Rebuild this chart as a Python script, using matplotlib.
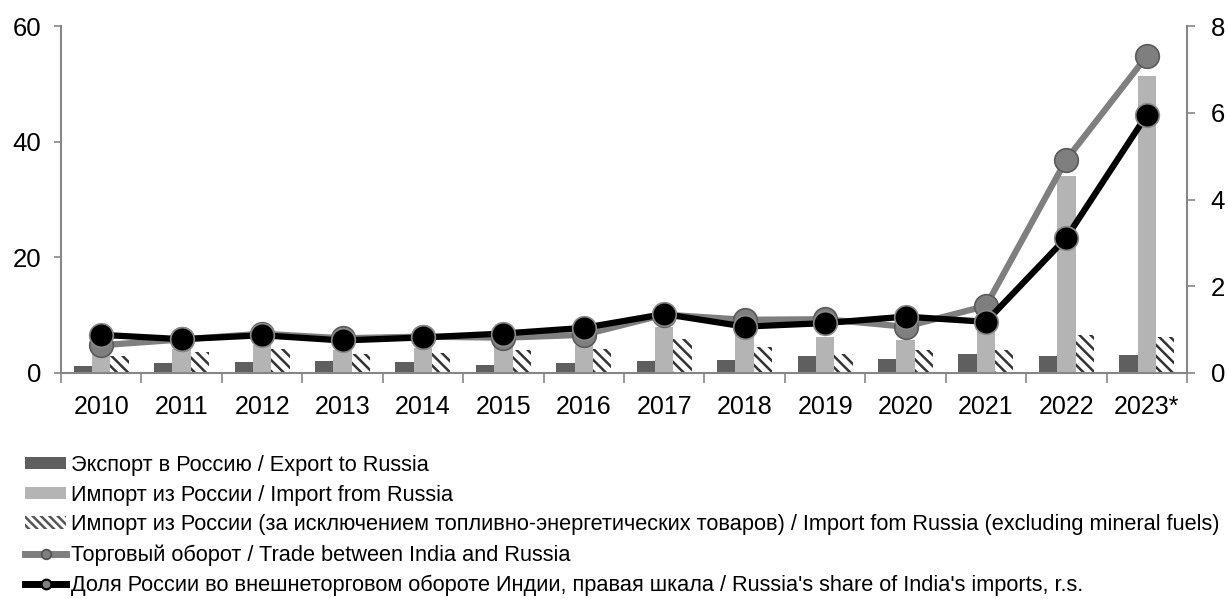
import matplotlib
matplotlib.use("Agg")
import matplotlib.pyplot as plt
import numpy as np
from matplotlib.lines import Line2D
from matplotlib.patches import Patch

plt.rcParams['font.family'] = ['Liberation Sans', 'DejaVu Sans']
plt.rcParams['hatch.linewidth'] = 1.8

years = ['2010', '2011', '2012', '2013', '2014', '2015', '2016', '2017',
         '2018', '2019', '2020', '2021', '2022', '2023*']
export_to_russia = [1.2, 1.7, 1.9, 2.0, 1.9, 1.4, 1.7, 2.0, 2.2, 2.9, 2.4, 3.2, 2.9, 3.1]
import_from_russia = [3.6, 4.1, 4.9, 4.0, 4.4, 4.7, 4.9, 8.0, 7.0, 6.2, 5.7, 8.6, 34.0, 51.4]
import_nonfuel = [2.9, 3.6, 4.1, 3.2, 3.5, 3.9, 4.1, 5.9, 4.5, 3.3, 3.9, 3.9, 6.6, 6.2]
trade_turnover = [4.8, 5.8, 6.8, 6.0, 6.3, 6.1, 6.6, 10.1, 9.2, 9.3, 8.0, 11.6, 36.9, 54.8]
russia_share = [0.88, 0.78, 0.87, 0.75, 0.82, 0.91, 1.04, 1.36, 1.07, 1.15, 1.30, 1.18, 3.12, 5.95]

labels = [
    'Экспорт в Россию / Export to Russia',
    'Импорт из России / Import from Russia',
    'Импорт из России (за исключением топливно-энергетических товаров) / Import fom Russia (excluding mineral fuels)',
    'Торговый оборот / Trade between India and Russia',
    "Доля России во внешнеторговом обороте Индии, правая шкала / Russia's share of India's imports, r.s.",
]

c_export = '#5f5f5f'
c_import = '#b4b4b4'
c_trade = '#7f7f7f'
c_spine = '#868686'

fig = plt.figure(figsize=(12.28, 5.99), dpi=100)
ax = fig.add_axes([61/1228, 1-373/599, (1187-61)/1228, (373-26)/599])
ax2 = ax.twinx()

x = np.arange(len(years))
w = 0.228
ax.bar(x - w, export_to_russia, w, color=c_export, linewidth=0, zorder=2)
ax.bar(x, import_from_russia, w, color=c_import, linewidth=0, zorder=2)
ax.bar(x + w, import_nonfuel, w, color='white', edgecolor='#333333', hatch='\\\\\\',
       linewidth=0, zorder=2)
ax.plot(x, trade_turnover, color=c_trade, lw=4.5, marker='o', ms=17,
        mfc=c_trade, mec='#5a5a5a', mew=1.2, zorder=3, solid_capstyle='round')
ax2.plot(x, russia_share, color='black', lw=4.5, marker='o', ms=17,
         mfc='black', mec='#8a8a8a', mew=1.2, zorder=3, solid_capstyle='round')

ax.set_xlim(-0.5, len(years) - 0.5)
ax.set_ylim(0, 60)
ax2.set_ylim(0, 8)
ax.set_yticks([0, 20, 40, 60])
ax2.set_yticks([0, 2, 4, 6, 8])

ax.set_xticks(x)
ax.set_xticklabels(years)
ax.set_xticks(np.arange(-0.5, len(years), 1.0), minor=True)
ax.tick_params(axis='x', which='major', length=0, pad=16, labelsize=18)
ax.tick_params(axis='x', which='minor', length=7, width=1.2, color=c_spine, direction='out')
ax.tick_params(axis='y', length=5, width=1.2, color=c_spine, labelsize=18.5, pad=9)
ax2.tick_params(axis='y', length=6, width=1.2, color=c_spine, labelsize=18.5, pad=11)

for a in (ax, ax2):
    a.spines['top'].set_visible(False)
    for s in ('left', 'right', 'bottom'):
        a.spines[s].set_color(c_spine)
        a.spines[s].set_linewidth(1.5)
ax.spines['right'].set_visible(False)
ax2.spines['left'].set_visible(False)
ax2.spines['bottom'].set_visible(False)

handles = [
    Patch(facecolor=c_export, edgecolor='none'),
    Patch(facecolor=c_import, edgecolor='none'),
    Patch(facecolor='white', edgecolor='#555555', hatch='\\\\\\\\', linewidth=0),
    Line2D([], [], color=c_trade, lw=5, marker='o', ms=7, mfc=c_trade, mec='#505050', mew=1.2),
    Line2D([], [], color='black', lw=5, marker='o', ms=7, mfc='#808080', mec='black', mew=1.5),
]
fig.legend(handles, labels, loc='upper left', bbox_to_anchor=(25/1228, 1-455/599),
           frameon=False, fontsize=15.7, handlelength=1.9, handleheight=0.5,
           handletextpad=0.2, labelspacing=0.4, borderpad=0, borderaxespad=0)

fig.savefig('out.png', dpi=100)
